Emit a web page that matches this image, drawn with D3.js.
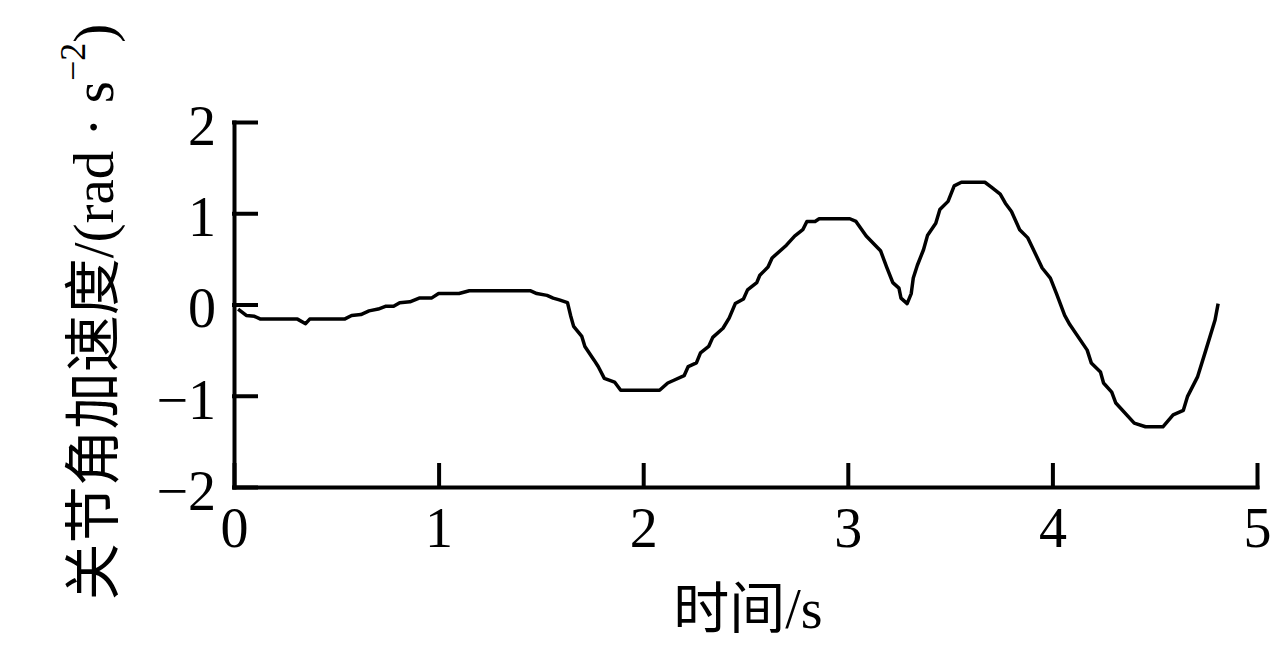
<!DOCTYPE html>
<html>
<head>
<meta charset="utf-8">
<script src="https://cdn.jsdelivr.net/npm/d3@7"></script>
<style>
  body { margin: 0; background: #fff; }
  svg text { fill: #000; }
</style>
</head>
<body>
<div id="chart"></div>
<script>
var width_chart = 1272,
    height_chart = 645;

// time (s) and joint angular acceleration (rad/s^2)
var time_s = [0.02, 0.06, 0.10, 0.13, 0.31, 0.35, 0.37, 0.54, 0.575, 0.62, 0.66, 0.705, 0.74, 0.78, 0.81, 0.86,
  0.905, 0.965, 1.00, 1.10, 1.15, 1.45, 1.48, 1.53, 1.56, 1.59, 1.63, 1.645, 1.66, 1.70, 1.715, 1.76,
  1.78, 1.81, 1.86, 1.89, 2.03, 2.08, 2.12, 2.15, 2.20, 2.22, 2.26, 2.28, 2.32, 2.34, 2.39, 2.42,
  2.45, 2.49, 2.51, 2.555, 2.57, 2.61, 2.63, 2.70, 2.74, 2.78, 2.80, 2.84, 2.86, 3.01, 3.04, 3.09,
  3.16, 3.19, 3.22, 3.25, 3.26, 3.29, 3.31, 3.32, 3.34, 3.37, 3.39, 3.43, 3.45, 3.49, 3.52, 3.555,
  3.67, 3.70, 3.745, 3.77, 3.80, 3.84, 3.88, 3.95, 3.99, 4.02, 4.06, 4.085, 4.17, 4.19, 4.235, 4.25,
  4.29, 4.31, 4.40, 4.455, 4.54, 4.59, 4.64, 4.66, 4.71, 4.75, 4.795, 4.81];

var accel = [-0.05, -0.12, -0.13, -0.16, -0.16, -0.21, -0.16, -0.16, -0.12, -0.11, -0.07, -0.05, -0.02, -0.02, 0.02, 0.03,
  0.07, 0.07, 0.12, 0.12, 0.15, 0.15, 0.12, 0.10, 0.07, 0.05, 0.02, -0.12, -0.24, -0.35, -0.46, -0.61,
  -0.68, -0.81, -0.85, -0.94, -0.94, -0.94, -0.86, -0.83, -0.78, -0.68, -0.64, -0.53, -0.46, -0.36, -0.26, -0.15,
  0.01, 0.06, 0.16, 0.24, 0.32, 0.41, 0.51, 0.65, 0.75, 0.82, 0.91, 0.91, 0.94, 0.94, 0.91, 0.75,
  0.59, 0.41, 0.24, 0.18, 0.07, 0.01, 0.12, 0.29, 0.43, 0.60, 0.76, 0.89, 1.04, 1.13, 1.30, 1.34,
  1.34, 1.29, 1.21, 1.11, 1.02, 0.82, 0.73, 0.40, 0.29, 0.12, -0.12, -0.22, -0.50, -0.64, -0.74, -0.86,
  -0.96, -1.08, -1.30, -1.34, -1.34, -1.21, -1.16, -1.01, -0.79, -0.50, -0.17, 0.01];

var x_ticks = [0, 1, 2, 3, 4, 5];
var y_ticks = [-2, -1, 0, 1, 2];

var x_title = "时间/s";
var y_title_main = "关节角加速度/(rad · s";
var y_title_sup = "−2";

var font_family = "'Liberation Serif', 'Noto Sans CJK SC', serif";

var svg = d3.select("#chart").append("svg")
    .attr("width", width_chart)
    .attr("height", height_chart);

var x = d3.scaleLinear().domain([0, 5]).range([234, 1257]);
var y = d3.scaleLinear().domain([-2, 2]).range([487, 122]);

// x axis, ticks pointing inward
var xAxis = svg.append("g")
    .attr("transform", "translate(0," + y(-2) + ")")
    .call(d3.axisBottom(x)
        .tickValues(x_ticks)
        .tickSizeInner(-22)
        .tickSizeOuter(0)
        .tickPadding(20)
        .tickFormat(d3.format("d")));

var yAxis = svg.append("g")
    .attr("transform", "translate(" + x(0) + ",0)")
    .call(d3.axisLeft(y)
        .tickValues(y_ticks)
        .tickSizeInner(-22)
        .tickSizeOuter(0)
        .tickPadding(18)
        .tickFormat(d3.format("d")));

svg.selectAll(".domain, .tick line")
    .attr("stroke", "#000")
    .attr("stroke-width", 4)
    .attr("stroke-linecap", "square");

svg.selectAll(".tick text")
    .style("font-family", font_family)
    .style("font-size", "56px")
    .attr("fill", "#000");

yAxis.selectAll(".tick text").attr("dy", "0.4em");

// the curve
var points = time_s.map(function(t, i) { return { t: t, v: accel[i] }; });

var line = d3.line()
    .x(function(d) { return x(d.t); })
    .y(function(d) { return y(d.v); });

svg.append("path")
    .datum(points)
    .attr("d", line)
    .attr("fill", "none")
    .attr("stroke", "#000")
    .attr("stroke-width", 3.5)
    .attr("stroke-linejoin", "round");

// axis titles
svg.append("text")
    .attr("x", 748)
    .attr("y", 628)
    .attr("text-anchor", "middle")
    .style("font-family", font_family)
    .style("font-size", "56px")
    .text(x_title);

var ylab = svg.append("text")
    .attr("transform", "translate(93,312) rotate(-90)")
    .attr("text-anchor", "middle")
    .attr("dominant-baseline", "central")
    .style("font-family", font_family)
    .style("font-size", "57px");

ylab.append("tspan").text(y_title_main);
ylab.append("tspan")
    .attr("baseline-shift", "super")
    .style("font-size", "36px")
    .text(y_title_sup);
ylab.append("tspan").text(")");
</script>
</body>
</html>
